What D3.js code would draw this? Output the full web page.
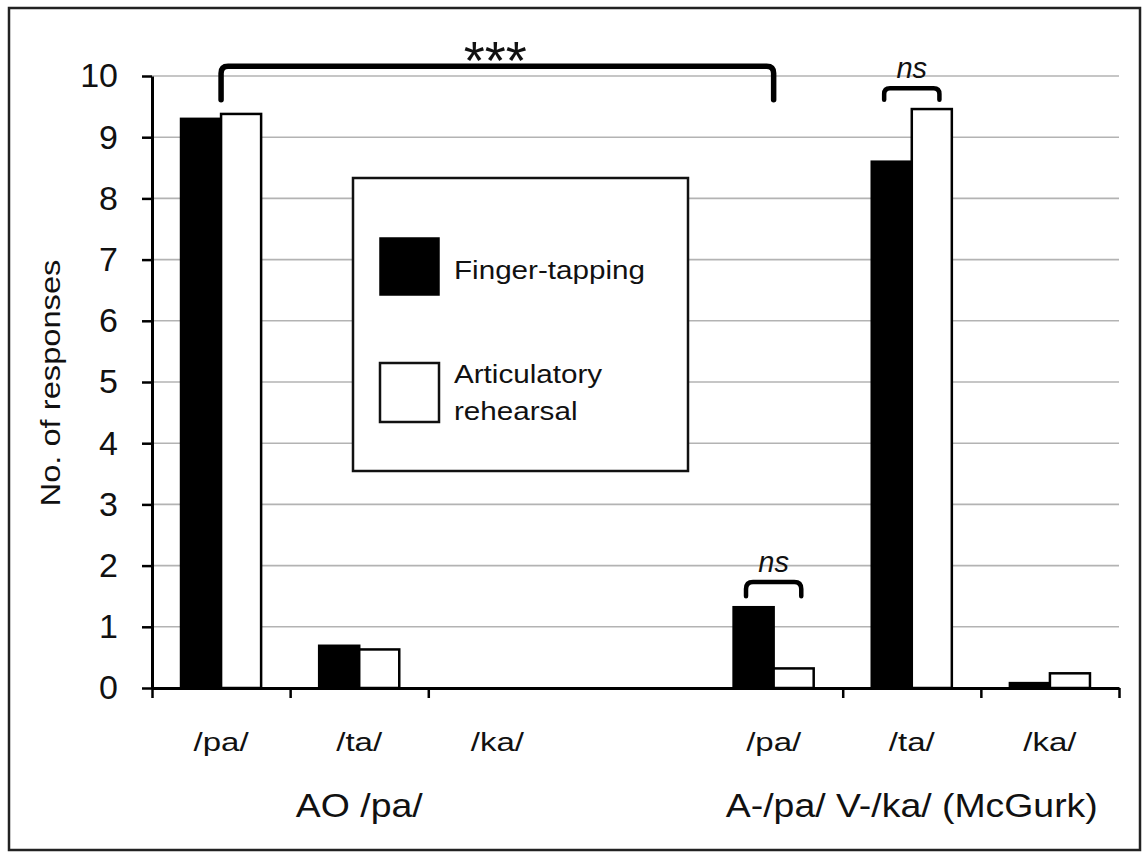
<!DOCTYPE html>
<html><head><meta charset="utf-8">
<script src="https://cdn.jsdelivr.net/npm/d3@7"></script>
<style>
body{margin:0;background:#fff}
svg{display:block}
text{font-family:"Liberation Sans",Arial,Helvetica,sans-serif;fill:#111}
</style>
</head><body>
<svg id="chart" width="1144" height="854"></svg>
<script>
// ---- data ----
const slots = ["/pa/", "/ta/", "/ka/", "", "/pa/", "/ta/", "/ka/"];
const seriesNames = ["Finger-tapping", "Articulatory rehearsal"];
const fingerTapping = [9.30, 0.69, 0, null, 1.32, 8.60, 0.08];
const articulatory  = [9.38, 0.63, 0, null, 0.32, 9.46, 0.24];
const yTicks = [0, 1, 2, 3, 4, 5, 6, 7, 8, 9, 10];
const groupLabels = ["AO /pa/", "A-/pa/ V-/ka/ (McGurk)"];
const groupFirst = [0, 4];
const groupLast = [2, 6];
const axisBoundaries = [0, 1, 2, 5, 6, 7];
const sigLabels = ["***", "ns", "ns"];
const sigFrom = [0, 4, 5];
const sigTo = [4, 4, 5];
const sigTop = [10.16, 1.73, 9.80];
const sigBottom = [9.61, 1.50, 9.61];

(function () {
// ---- layout ----
const svg = d3.select("#chart");
const pLeft = 152, pRight = 1119, pTop = 76, pBottom = 688;
const idx = d3.range(slots.length);
const x = d3.scaleBand().domain(idx).range([pLeft, pRight]).padding(0);
const xs = d3.scaleBand().domain([0, 1]).range([0, x.bandwidth()]).paddingInner(0).paddingOuter(0.725);
const xb = d3.scaleLinear().domain([0, slots.length]).range([pLeft, pRight]);
const y = d3.scaleLinear().domain([0, 10]).range([pBottom, pTop]);
const font = '"Liberation Sans",Arial,sans-serif';

// outer frame
svg.append("rect").attr("x", 9).attr("y", 8).attr("width", 1131).attr("height", 842)
  .attr("fill", "none").attr("stroke", "#222").attr("stroke-width", 2.5);

// gridlines
svg.append("g").selectAll("line").data(yTicks.filter(d => d > 0)).join("line")
  .attr("x1", pLeft).attr("x2", pRight).attr("y1", d => y(d)).attr("y2", d => y(d))
  .attr("stroke", "#b3b3b3").attr("stroke-width", 1.6);

// legend
const lg = svg.append("g");
lg.append("rect").attr("x", 353).attr("y", 178).attr("width", 335).attr("height", 293)
  .attr("fill", "#fff").attr("stroke", "#111").attr("stroke-width", 2.5);
lg.append("rect").attr("x", 380).attr("y", 238).attr("width", 59).attr("height", 57)
  .attr("fill", "#000").attr("stroke", "#000").attr("stroke-width", 1.5);
lg.append("rect").attr("x", 380).attr("y", 363).attr("width", 59).attr("height", 59)
  .attr("fill", "#fff").attr("stroke", "#111").attr("stroke-width", 2.5);
function stretchText(g, str, tx, ty, size, sx, anchor, extra) {
  return g.append("text").text(str)
    .attr("transform", `translate(${tx},${ty}) ${extra || ""} scale(${sx},1)`)
    .attr("font-size", size).attr("text-anchor", anchor || "start");
}
stretchText(lg, seriesNames[0], 454, 279, 26, 1.14);
stretchText(lg, "Articulatory", 454, 383, 26, 1.14);
stretchText(lg, "rehearsal", 454, 420, 26, 1.14);

// bars
const series = [fingerTapping, articulatory];
const bars = svg.append("g");
series.forEach((vals, s) => {
  bars.selectAll(null).data(idx.filter(i => vals[i] !== null)).join("rect")
    .attr("x", i => x(i) + xs(s))
    .attr("width", xs.bandwidth())
    .attr("y", i => y(vals[i]))
    .attr("height", i => y(0) - y(vals[i]))
    .attr("fill", s === 0 ? "#000" : "#fff")
    .attr("stroke", "#000").attr("stroke-width", 2.5);
});

// y axis
const yAxis = svg.append("g").attr("transform", `translate(${pLeft},0)`)
  .call(d3.axisLeft(y).tickValues(yTicks).tickSize(10).tickSizeOuter(0).tickPadding(24).tickFormat(d3.format("d")));
yAxis.select(".domain").attr("stroke", "#000").attr("stroke-width", 3);
yAxis.selectAll(".tick line").attr("stroke", "#000").attr("stroke-width", 2.5);
yAxis.selectAll(".tick text").attr("font-size", 34).attr("font-family", font).attr("fill", "#111");

// x axis
const xAxis = svg.append("g").attr("transform", `translate(0,${pBottom})`)
  .call(d3.axisBottom(xb).tickValues(axisBoundaries).tickSize(10).tickSizeOuter(0).tickFormat(""));
xAxis.select(".domain").attr("stroke", "#000").attr("stroke-width", 3);
xAxis.selectAll(".tick line").attr("stroke", "#000").attr("stroke-width", 2.5);

// category labels
idx.forEach(i => {
  if (!slots[i]) return;
  stretchText(svg, slots[i], x(i) + x.bandwidth() / 2, 751, 26, 1.27, "middle");
});

// group labels
groupLabels.forEach((g, k) => {
  const cx = (x(groupFirst[k]) + x(groupLast[k]) + x.bandwidth()) / 2;
  stretchText(svg, g, cx, 817, 34, 1.1, "middle");
});

// y label
stretchText(svg, "No. of responses", 60, 383, 27, 1.21, "middle", "rotate(-90)");

// significance brackets
sigLabels.forEach((lab, k) => {
  let x1, x2;
  const big = sigFrom[k] !== sigTo[k];
  if (big) {
    x1 = x(sigFrom[k]) + x.bandwidth() / 2;
    x2 = x(sigTo[k]) + x.bandwidth() / 2;
  } else {
    const c = x(sigFrom[k]) + x.bandwidth() / 2;
    x1 = c - x.bandwidth() * 0.2;
    x2 = c + x.bandwidth() * 0.2;
  }
  const yt = y(sigTop[k]), yb = y(sigBottom[k]);
  const r = Math.min(7, (yb - yt) / 2);
  svg.append("path")
    .attr("d", `M${x1},${yb} V${yt + r} Q${x1},${yt} ${x1 + r},${yt} H${x2 - r} Q${x2},${yt} ${x2},${yt + r} V${yb}`)
    .attr("fill", "none").attr("stroke", "#000").attr("stroke-width", big ? 5.5 : 4.5)
    .attr("stroke-linecap", "round");
  const cx = (x1 + x2) / 2;
  if (big) {
    svg.append("text").text(lab).attr("x", cx - 2).attr("y", yt + 13)
      .attr("text-anchor", "middle").attr("font-size", 54);
  } else {
    svg.append("text").text(lab).attr("x", cx).attr("y", yt - 10)
      .attr("text-anchor", "middle").attr("font-size", 29).attr("font-style", "italic");
  }
});
})();
</script>
</body></html>
